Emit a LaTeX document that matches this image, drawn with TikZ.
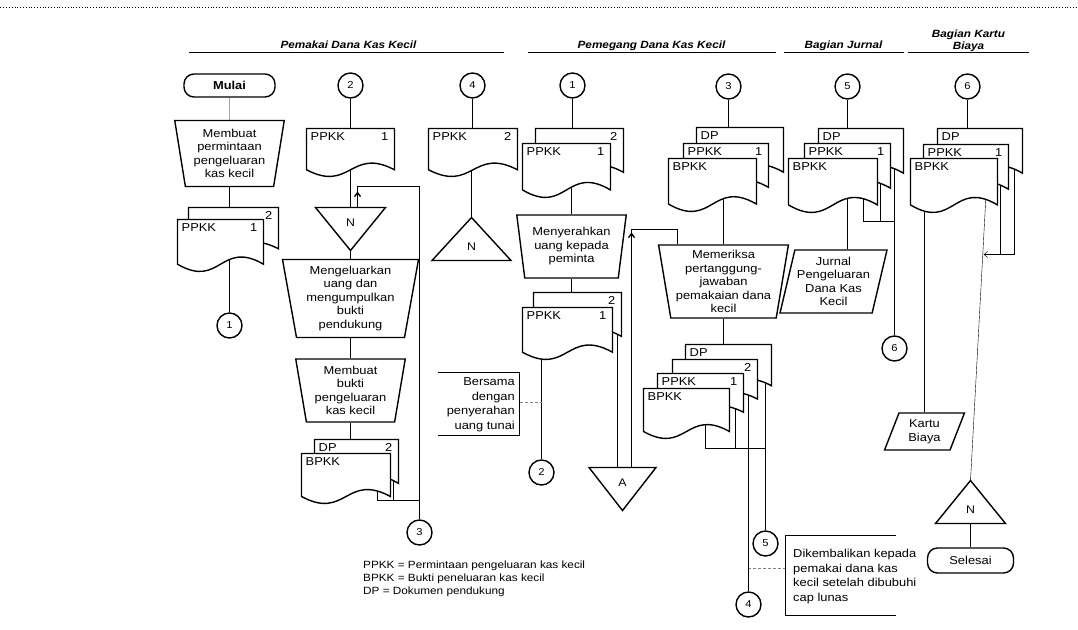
\documentclass[tikz,border=0pt]{standalone}
\usepackage{fontspec}
\setmainfont{Liberation Sans}[FakeStretch=1.12]
\usetikzlibrary{shapes.geometric, arrows.meta, calc, backgrounds}
\newcommand{\flowfont}{\fontsize{11.5}{13.5}\selectfont}
\newcommand{\notefont}{\fontsize{11.5}{14.5}\selectfont}
\tikzset{
    proc/.style 2 args={
        trapezium, trapezium angle=80, shape border rotate=180,
        trapezium stretches=true, draw, fill=white,
        minimum width=#1, minimum height=#2,
        align=center, inner sep=0pt, font=\flowfont
    },
    iobox/.style n args={4}{
        trapezium, trapezium left angle=#3, trapezium right angle=#4,
        trapezium stretches=true, draw, fill=white,
        minimum width=#1, minimum height=#2,
        align=center, inner sep=0pt, font=\flowfont
    },
    term/.style 2 args={
        rectangle, rounded corners=10pt, draw, fill=white,
        minimum width=#1, minimum height=#2, font=\flowfont
    },
    conn/.style={circle, draw, fill=white, minimum size=25pt, inner sep=0pt,
        font=\fontsize{10}{11}\selectfont},
    hdr/.style={font=\fontsize{10.5}{12}\selectfont\bfseries\itshape, anchor=base, align=center},
    doclbl/.style={font=\flowfont, inner sep=1.5pt},
    trilbl/.style={font=\fontsize{11}{12}\selectfont, inner sep=0pt},
    note/.style={font=\notefont, inner sep=0pt},
    arr/.style={-{Straight Barb[length=4pt,width=6pt]}},
    hint/.style={densely dashed, gray, line width=0.7pt},
    pics/docu/.style n args={4}{code={
        \path[draw, fill=white] (0,0) -- (#1,0) -- (#1,0.86*#2)
            .. controls (0.5*#1,0.38*#2) and (0.5*#1,1.34*#2) .. (0,0.86*#2) -- cycle;
        \node[doclbl, anchor=north west] (-l) at (2,1.5) {#3};
        \node[doclbl, anchor=north east] (-r) at (#1-4,1.5) {#4};
        \coordinate (-c) at (0.5*#1,0.5*#2);
    }},
    pics/tridn/.style n args={3}{code={
        \path[draw, fill=white] (-0.5*#1,0) -- (0.5*#1,0) -- (0,#2) -- cycle;
        \node[trilbl] (-l) at (0,0.36*#2) {#3};
        \coordinate (-base) at (0,0);
        \coordinate (-apex) at (0,#2);
    }},
    pics/triup/.style n args={3}{code={
        \path[draw, fill=white] (-0.5*#1,0) -- (0.5*#1,0) -- (0,-#2) -- cycle;
        \node[trilbl] (-l) at (0,-0.33*#2) {#3};
        \coordinate (-base) at (0,0);
        \coordinate (-apex) at (0,-#2);
    }}
}
\begin{document}
\begin{tikzpicture}[x=1pt, y=-1pt, line width=1.4pt]
    \useasboundingbox (-0.5,-0.5) rectangle (1077.5,628.5);
    \draw[dotted, line width=0.8pt] (0,7) -- (1078,7);

    % Headers
    \node[hdr] (hdrA) at (348,48) {Pemakai Dana Kas Kecil};
    \node[hdr] (hdrB) at (651,48) {Pemegang Dana Kas Kecil};
    \node[hdr] (hdrC) at (843,48) {Bagian Jurnal};
    \node[hdr, anchor=south, inner sep=0pt] (hdrD) at (968,51.5) {Bagian Kartu\\Biaya};
    \draw (188,52) -- (503,52);
    \draw (527,52) -- (775,52);
    \draw (783,52) -- (903,52);
    \draw (907,52) -- (1028,52);

    % Pemakai: request
    \node[term={91}{23}, font=\flowfont\bfseries] (start) at (229,85) {Mulai};
    \node[proc={110}{66}] (man1) at (229,153) {Membuat\\permintaan\\pengeluaran\\kas kecil};
    \pic (c1b) at (188,207) {docu={90}{48}{}{2}};
    \pic (c1f) at (177,219) {docu={86}{52}{PPKK}{1}};
    \node[conn] (con1) at (229,325) {1};

    % Pemakai: receive cash
    \node[conn] (con2) at (350,85) {2};
    \pic (d2) at (306,128) {docu={88}{48}{PPKK}{1}};
    \pic (N1) at (350,207) {tridn={70}{43}{N}};
    \node[proc={136}{78}] (man2) at (350,298) {Mengeluarkan\\uang dan\\mengumpulkan\\bukti\\pendukung};
    \node[proc={110}{63}] (man3) at (350,390) {Membuat\\bukti\\pengeluaran\\kas kecil};
    \pic (c2b) at (314,439) {docu={84}{51}{DP}{2}};
    \pic (c2f) at (301,453) {docu={89}{50}{BPKK}{}};
    \node[conn] (con3) at (419,532) {3};
    \coordinate (k1) at (357,186);
    \coordinate (k2) at (377,500);
    \coordinate (k3) at (393,500);

    % Pemakai: returned copy
    \node[conn] (con4) at (472,85) {4};
    \pic (d3) at (428,128) {docu={89}{48}{PPKK}{2}};
    \pic (N2) at (471,260) {triup={79}{43}{N}};

    % Pemegang: hand over cash
    \node[conn] (con1b) at (572,85) {1};
    \pic (c4b) at (535,128) {docu={88}{51}{}{2}};
    \pic (c4f) at (522,143) {docu={88}{54}{PPKK}{1}};
    \node[proc={110}{63}] (man4) at (571,246) {Menyerahkan\\uang kepada\\peminta};
    \pic (c5b) at (533,292) {docu={88}{51}{}{2}};
    \pic (c5f) at (522,307) {docu={90}{52}{PPKK}{1}};
    \node[conn] (con2b) at (541,472) {2};
    \pic (A) at (622,467) {tridn={67}{43}{A}};
    \coordinate (k5) at (617,467);
    \coordinate (k6) at (631,229);
    \coordinate (k7) at (677,229);

    \coordinate (n1a) at (437,372);
    \coordinate (n1b) at (519,435);
    \coordinate (n1c) at (519,402);
    \draw (n1a) -- (n1a -| n1b) -- (n1b) -- (n1b -| n1a);
    \node[note, anchor=east, align=right] (note1) at (515,404) {Bersama\\dengan\\penyerahan\\uang tunai};

    % Pemegang: check
    \node[conn] (con3b) at (728,86) {3};
    \pic (c6a) at (696,127) {docu={87}{52}{DP}{}};
    \pic (c6b) at (683,143) {docu={85}{51}{PPKK}{1}};
    \pic (c6c) at (668,158) {docu={88}{53}{BPKK}{}};
    \node[proc={130}{73}] (man5) at (723,281) {Memeriksa\\pertanggung-\\jawaban\\pemakaian dana\\kecil};
    \pic (c7a) at (685,344) {docu={86}{48}{DP}{}};
    \pic (c7b) at (672,359) {docu={85}{46}{}{2}};
    \pic (c7c) at (657,373) {docu={86}{45}{PPKK}{1}};
    \pic (c7d) at (643,388) {docu={86}{50}{BPKK}{}};
    \node[conn] (con5) at (765,543) {5};
    \node[conn] (con4b) at (748,604) {4};
    \coordinate (k8) at (705,448);
    \coordinate (k9) at (735,448);

    \coordinate (n2a) at (895,535);
    \coordinate (n2b) at (785,615);
    \coordinate (n2c) at (785,568);
    \draw (n2a) -- (n2a -| n2b) -- (n2b) -- (n2b -| n2a);
    \node[note, anchor=west, align=left] (note2) at (792,576) {Dikembalikan kepada\\pemakai dana kas\\kecil setelah dibubuhi\\cap lunas};

    % Bagian Jurnal
    \node[conn] (con5b) at (847,86) {5};
    \pic (c8a) at (818,128) {docu={85}{52}{DP}{}};
    \pic (c8b) at (804,143) {docu={86}{52}{PPKK}{1}};
    \pic (c8c) at (788,158) {docu={89}{54}{BPKK}{}};
    \node[iobox={107}{63}{74}{106}] (jur) at (833,281) {Jurnal\\Pengeluaran\\Dana Kas\\Kecil};
    \node[conn] (con6) at (894,348) {6};
    \coordinate (k11) at (863,221);
    \coordinate (k12) at (880,221);

    % Bagian Kartu Biaya
    \node[conn] (con6b) at (967,86) {6};
    \pic (c9a) at (937,128) {docu={85}{52}{DP}{}};
    \pic (c9b) at (923,144) {docu={85}{52}{PPKK}{1}};
    \pic (c9c) at (910,158) {docu={87}{54}{BPKK}{}};
    \node[iobox={80}{37}{69}{111}] (kar) at (924,431) {Kartu\\Biaya};
    \pic (N3) at (970,523) {triup={70}{43}{N}};
    \node[term={86}{25}] (stop) at (970,560) {Selesai};
    \coordinate (k14) at (986,185);
    \coordinate (k15) at (983,254);
    \coordinate (k16) at (1014,254);
    \coordinate (k17) at (1000,254);

    % Legend
    \node[anchor=north west, align=left, inner sep=0pt, font=\fontsize{10.5}{13}\selectfont] (key) at (362,560)
        {PPKK = Permintaan pengeluaran kas kecil\\BPKK = Bukti peneluaran kas kecil\\DP = Dokumen pendukung};

    % Arrow marks
    \draw[arr] (N1-base -| k1) -- ++(0,-16);
    \draw[arr] (k6) ++(0,16) -- ++(0,-13);

    % Flow lines
    \begin{scope}[on background layer]
        \draw (start.south) -- (man1.north);
        \draw (man1.south) -- (man1.south |- c1f-c);
        \draw (con1.north) -- (con1.north |- c1f-c);
        \draw (con2.south) -- (con2.south |- d2-c);
        \draw (N1-base) -- (N1-base |- d2-c);
        \draw (N1-apex) -- (N1-apex |- man2.north);
        \draw (man2.south) -- (man2.south |- man3.north);
        \draw (man3.south) -- (man3.south |- c2f-c);
        \draw (N1-base -| k1) -- (k1) -| (con3.north);
        \draw (k2 |- c2f-c) -- (k2) -- (k2 -| con3);
        \draw (k3 |- c2b-c) -- (k3);

        \draw (con4.south) -- (con4.south |- d3-c);
        \draw (N2-apex) -- (N2-apex |- d3-c);

        \draw (con1b.south) -- (con1b.south |- c4f-c);
        \draw (man4.north) -- (man4.north |- c4f-c);
        \draw (man4.south) -- (man4.south |- c5f-c);
        \draw (con2b.north) -- (con2b.north |- c5f-c);
        \draw (k5 |- c5b-c) -- (k5);
        \draw (k6 |- A-base) -- (k6) -- (k7) -- (k7 |- man5.north);
        \draw[hint] (n1c) -- (n1c -| con2b);

        \draw (con3b.south) -- (con3b.south |- c6c-c);
        \draw (man5.north) -- (man5.north |- c6c-c);
        \draw (man5.south) -- (man5.south |- c7a-c);
        \draw (k8 |- c7d-c) -- (k8) -- (k8 -| con5);
        \draw (k9 |- c7c-c) -- (k9);
        \draw (con5.north |- c7a-c) -- (con5.north);
        \draw (con4b.north |- c7b-c) -- (con4b.north);
        \draw[hint] (n2c) -- (n2c -| con4b);

        \draw (con5b.south) -- (con5b.south |- c8c-c);
        \draw (jur.north -| con5b) -- (con5b |- c8c-c);
        \draw (k11 |- c8c-c) -- (k11) -- (k11 -| con6);
        \draw (k12 |- c8b-c) -- (k12);
        \draw (con6.north |- c8a-c) -- (con6.north);

        \draw (con6b.south) -- (con6b.south |- c9c-c);
        \draw (kar.north) -- (kar.north |- c9c-c);
        \draw (k14) -- (N3-apex);
        \draw[arr] (k16 |- c9a-c) -- (k16) -- (k15);
        \draw (k17 |- c9b-c) -- (k17);
        \draw (N3-base) -- (stop.north);
    \end{scope}
\end{tikzpicture}
\end{document}
